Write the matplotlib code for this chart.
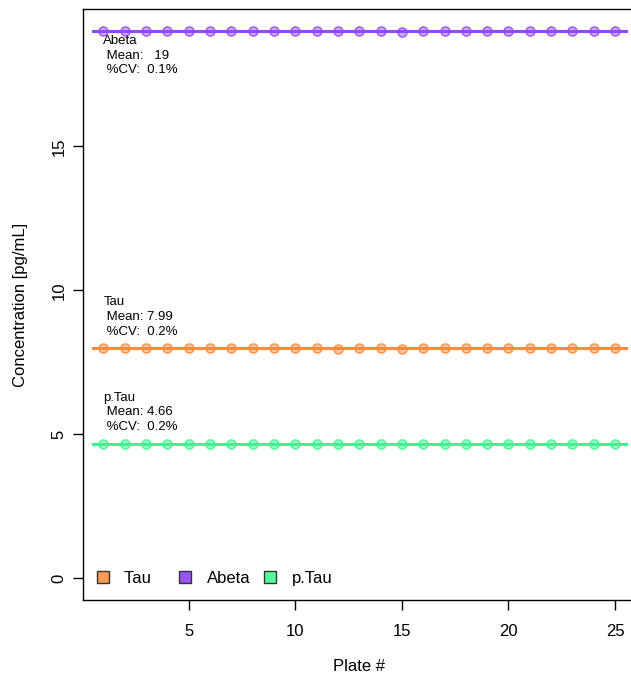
import matplotlib
matplotlib.use("Agg")
import matplotlib.pyplot as plt
from matplotlib.lines import Line2D
from matplotlib.colors import to_rgba
import numpy as np

plt.rcParams['font.family'] = ['Liberation Sans', 'DejaVu Sans']

# Plate numbers and measured concentrations
plates = list(range(1, 26))
tau = [7.99, 7.99, 7.99, 7.99, 8.01, 7.99, 7.99, 7.99, 7.99, 7.99, 7.99, 7.97, 7.99,
       7.99, 7.97, 7.99, 7.99, 7.99, 7.99, 7.99, 7.99, 7.99, 7.99, 8.01, 7.99]
abeta = [19.01, 19.01, 19.00, 18.99, 19.00, 19.00, 19.00, 19.00, 19.00, 19.00, 19.00, 19.00, 19.00,
         19.00, 18.98, 19.00, 19.00, 19.00, 19.00, 19.00, 19.00, 19.02, 19.00, 19.00, 19.00]
ptau = [4.66, 4.67, 4.66, 4.65, 4.66, 4.66, 4.66, 4.66, 4.66, 4.66, 4.66, 4.66, 4.66,
        4.66, 4.65, 4.66, 4.66, 4.66, 4.66, 4.66, 4.66, 4.66, 4.66, 4.65, 4.66]

names = ["Tau", "Abeta", "p.Tau"]
series = [tau, abeta, ptau]
colors = ["#FF8A3D", "#9149F7", "#3DF58F"]
legend_fill = ["#FF9A55", "#9A55FF", "#55FF9A"]
means = ["7.99", "19", "4.66"]
cvs = ["0.2%", "0.1%", "0.2%"]
text_y = [9.07, 18.15, 5.76]

W, H = 631, 681
fig = plt.figure(figsize=(W / 100, H / 100), dpi=100)
ax = fig.add_axes([83 / W, 81 / H, (635.5 - 83) / W, (600 - 9) / H])

for name, vals, col, m, cv, ty in zip(names, series, colors, means, cvs, text_y):
    mu = np.mean(vals)
    ax.plot([0.5, 25.5], [mu, mu], color=col, lw=2.2, zorder=2)
    ax.plot(plates, vals, 'o', ms=6.5, mfc=to_rgba(col, 0.45), mec=to_rgba(col, 0.85),
            mew=1.1, zorder=3)
    ax.text(1, ty, f"{name}\n Mean: {m:>4}\n %CV:  {cv}", ha='left', va='center',
            fontsize=9.5, linespacing=1.3, zorder=4)

ax.set_xlim(0.04, 25.96)
ax.set_ylim(-0.76, 19.77)
ax.set_xticks([5, 10, 15, 20, 25])
ax.set_yticks([0, 5, 10, 15])
ax.tick_params(labelsize=12, length=7, width=1)
ax.tick_params(axis='x', pad=10.5)
ax.tick_params(axis='y', pad=4.8)
for lab in ax.get_yticklabels():
    lab.set_rotation(90)
    lab.set_va('center')
for s in ax.spines.values():
    s.set_linewidth(1)
ax.set_xlabel("Plate #", fontsize=12, labelpad=14)
ax.set_ylabel("Concentration [pg/mL]", fontsize=12, labelpad=17)

handles = [Line2D([], [], ls='none', marker='s', ms=8, mfc=c, mec='#333333', mew=1.0) for c in legend_fill]
ax.legend(handles, ["Tau   ", "Abeta", "p.Tau"], loc='center left', bbox_to_anchor=(0.6, 0.0),
          bbox_transform=ax.transData, ncol=3, frameon=False, fontsize=12,
          handlelength=1.0, handletextpad=0.76, columnspacing=0.72, borderpad=0, borderaxespad=0)

fig.savefig("out.png", dpi=100)
